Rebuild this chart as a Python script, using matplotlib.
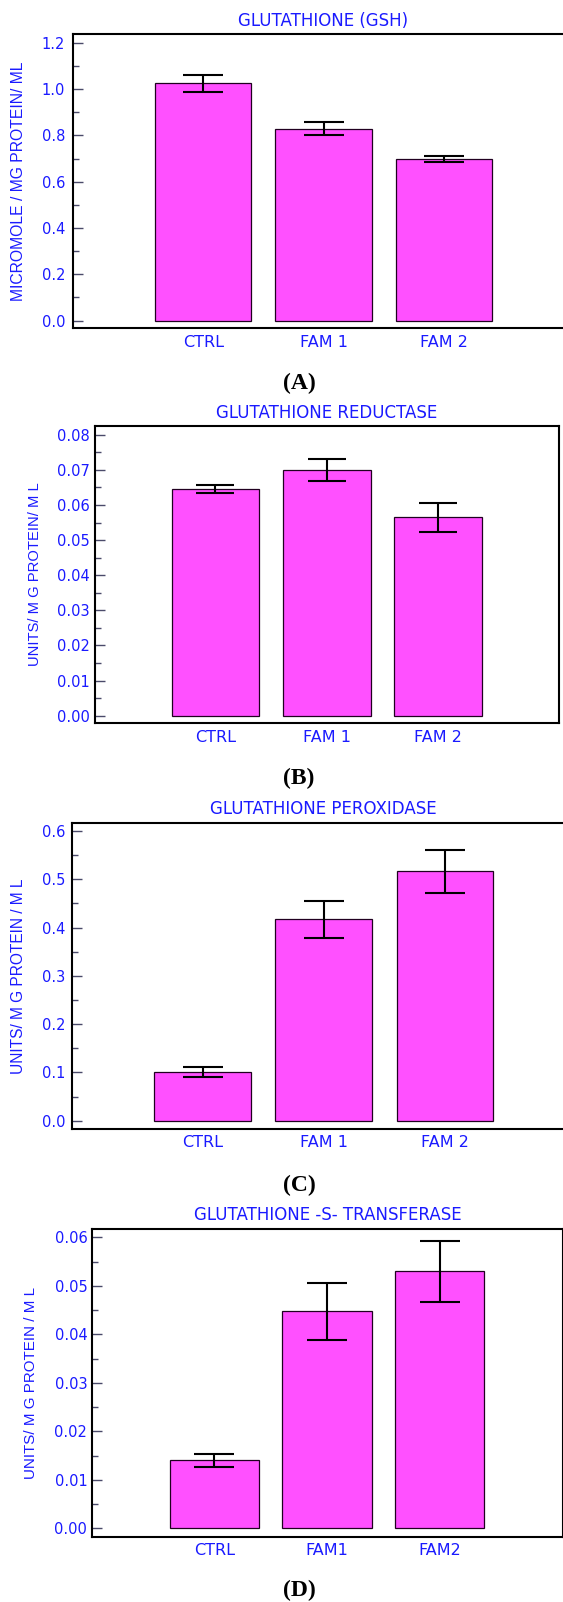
import matplotlib
matplotlib.use("Agg")
import matplotlib.pyplot as plt
import numpy as np
from matplotlib.ticker import MultipleLocator, FormatStrFormatter

plt.rcParams['font.family'] = ['DejaVu Sans']

W, H = 563, 1602

# ---- data ----
groups_abc = ['CTRL', 'FAM 1', 'FAM 2']
groups_d = ['CTRL', 'FAM1', 'FAM2']

gsh_mean = [1.025, 0.828, 0.698]
gsh_err = [0.036, 0.028, 0.013]

gr_mean = [0.0646, 0.0700, 0.0565]
gr_err = [0.0012, 0.0031, 0.0041]

gpx_mean = [0.1015, 0.417, 0.5166]
gpx_err = [0.010, 0.038, 0.0445]

gst_mean = [0.0140, 0.0447, 0.0530]
gst_err = [0.0013, 0.0059, 0.0063]

BLUE = '#1a1aff'
BAR = '#ff50ff'
TICK = '#4a4a6a'


def px_axes(fig, l, t, r, b):
    return fig.add_axes([l / W, 1 - b / H, (r - l) / W, (b - t) / H])


def panel(fig, box, groups, mean, err, title, ylabel, letter, cfg):
    l, t, r, b = box
    ax = px_axes(fig, l, t, r, b)
    x = np.arange(len(groups))
    ax.bar(x, mean, width=cfg['width'], color=BAR, edgecolor='#200020',
           linewidth=0.9, zorder=2)
    ax.errorbar(x, mean, yerr=err, fmt='none', ecolor='black',
                elinewidth=1.5, capsize=cfg['cap'], capthick=1.5, zorder=3)
    ax.set_xlim(*cfg['xlim'])
    ax.set_ylim(*cfg['ylim'])

    # axes frame
    for s in ['left', 'top', 'bottom', 'right']:
        ax.spines[s].set_linewidth(1.5)
        ax.spines[s].set_color('black')
    if not cfg['right']:
        ax.spines['right'].set_visible(False)

    ax.set_xticks(x)
    ax.set_xticklabels(groups, color=BLUE, fontsize=11.5)
    ax.tick_params(axis='x', length=0, pad=4.5)

    ax.yaxis.set_major_locator(MultipleLocator(cfg['major']))
    ax.yaxis.set_minor_locator(MultipleLocator(cfg['major'] / 2))
    ax.yaxis.set_major_formatter(FormatStrFormatter(cfg['fmt']))
    ax.tick_params(axis='y', which='major', direction='in', length=7,
                   width=1, color=TICK, labelcolor=BLUE, labelsize=10.5,
                   pad=cfg['pad'])
    ax.tick_params(axis='y', which='minor', direction='in', length=4,
                   width=1, color=TICK)

    # title, y label and panel letter placed in pixel positions
    fig.text(((l + r) / 2 if cfg['right'] else 323) / W, 1 - cfg['title_y'] / H,
             title, color=BLUE, fontsize=12, ha='center', va='center')
    fig.text(cfg['ylab_x'] / W, 1 - (t + b) / 2 / H, ylabel, color=BLUE,
             fontsize=cfg['ylab_fs'], family='Liberation Sans',
             rotation=90, ha='center', va='center')
    fig.text(299 / W, 1 - cfg['letter_y'] / H, letter, fontsize=17,
             family='Liberation Serif', fontweight='bold',
             ha='center', va='center')
    return ax


def main():
    fig = plt.figure(figsize=(W / 100, H / 100), dpi=100)

    panel(fig, (72.7, 33.7, 563, 328.3), groups_abc, gsh_mean, gsh_err,
          'GLUTATHIONE (GSH)', 'MICROMOLE / MG PROTEIN/ ML', '(A)',
          dict(width=0.8, cap=14.5, xlim=(-1.085, 2.989), ylim=(-0.033, 1.239),
               right=False, major=0.2, fmt='%.1f', pad=5.5, title_y=21,
               ylab_x=19, ylab_fs=11.3, letter_y=383))

    panel(fig, (95.3, 425.7, 558.7, 723.3), groups_abc, gr_mean, gr_err,
          'GLUTATHIONE REDUCTASE', 'UNITS/ M G PROTEIN/ M L', '(B)',
          dict(width=0.79, cap=14, xlim=(-1.080, 3.085), ylim=(-0.00216, 0.08256),
               right=True, major=0.01, fmt='%.2f', pad=3.8, title_y=412.8,
               ylab_x=35, ylab_fs=10.6, letter_y=778))

    panel(fig, (71.7, 822.7, 563, 1129), groups_abc, gpx_mean, gpx_err,
          'GLUTATHIONE PEROXIDASE', 'UNITS/ M G PROTEIN / M L', '(C)',
          dict(width=0.8, cap=14.5, xlim=(-1.081, 2.974), ylim=(-0.0172, 0.6172),
               right=False, major=0.1, fmt='%.1f', pad=4.8, title_y=808.8,
               ylab_x=18.3, ylab_fs=11.2, letter_y=1185))

    panel(fig, (92.3, 1228.7, 562.7, 1536.7), groups_d, gst_mean, gst_err,
          'GLUTATHIONE -S- TRANSFERASE', 'UNITS/ M G PROTEIN / M L', '(D)',
          dict(width=0.79, cap=14.5, xlim=(-1.081, 3.09), ylim=(-0.00173, 0.06177),
               right=True, major=0.01, fmt='%.2f', pad=3.6, title_y=1214.5,
               ylab_x=30.7, ylab_fs=10.9, letter_y=1590))

    fig.savefig('out.png', dpi=100)


if __name__ == '__main__':
    main()
